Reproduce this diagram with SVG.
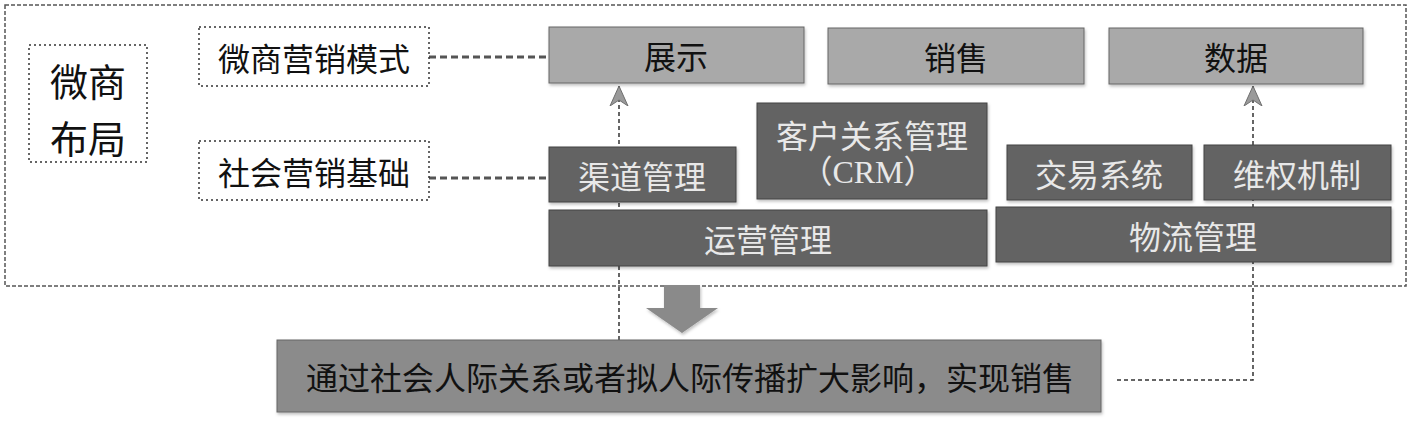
<svg xmlns="http://www.w3.org/2000/svg" width="1413" height="423" viewBox="0 0 1413 423">
<style>
text{font-family:"Noto Sans CJK SC","Noto Sans CJK JP",sans-serif;dominant-baseline:central;text-anchor:middle}
.frame{fill:none;stroke:#555;stroke-width:1.5;stroke-dasharray:4 2}
.dot{fill:#fff;stroke:#333;stroke-width:1.5;stroke-dasharray:2 3}
.light{fill:#a9a9a9;stroke:#666;stroke-width:1}
.dark{fill:#636363;stroke:#444;stroke-width:1}
.bottom{fill:#8b8b8b;stroke:#666;stroke-width:1}
.tb{fill:#111;font-size:32px}
.tw{fill:#e8e8e8;font-size:32px}
.big{fill:#111;font-size:38px}
.link{fill:none;stroke:#555;stroke-width:3;stroke-dasharray:7 4}
.thin{fill:none;stroke:#333;stroke-width:1.5;stroke-dasharray:4 3}
</style>
<defs>
<filter id="sh" x="-5%" y="-10%" width="110%" height="130%">
<feDropShadow dx="1" dy="2" stdDeviation="1.5" flood-color="#000" flood-opacity="0.25"/>
</filter>
<marker id="ah" viewBox="0 0 20 20" refX="20" refY="10" markerWidth="20" markerHeight="20" markerUnits="userSpaceOnUse" orient="auto">
<path d="M0,1 L20,10 L0,19 L6,10 Z" fill="#9a9a9a" stroke="#6e6e6e" stroke-width="1"/>
</marker>
</defs>
<rect id="outer-frame" class="frame" x="5" y="5" width="1401" height="281"/>
<g id="connectors">
<line class="link" x1="429" y1="57" x2="549" y2="57"/>
<line class="link" x1="429" y1="178" x2="549" y2="178"/>
<line class="thin" x1="619" y1="340" x2="619" y2="86" marker-end="url(#ah)"/>
<polyline class="thin" points="1117,380 1253,380 1253,86" marker-end="url(#ah)"/>
<polygon points="664,285 700,285 700,308 718,308 682,333 646,308 664,308" fill="#8a8a8a" filter="url(#sh)"/>
</g>
<g id="node-layout">
<rect class="dot" x="29" y="45" width="118" height="117"/>
<text class="big" x="88" y="79">微商</text>
<text class="big" x="88" y="136">布局</text>
</g>
<g id="node-mode">
<rect class="dot" x="199" y="27" width="230" height="59"/>
<text class="tb" x="314" y="57">微商营销模式</text>
</g>
<g id="node-base">
<rect class="dot" x="199" y="141" width="230" height="59"/>
<text class="tb" x="314" y="171">社会营销基础</text>
</g>
<g id="node-show">
<rect class="light" x="549" y="27" width="255" height="56" filter="url(#sh)"/>
<text class="tb" x="676" y="55">展示</text>
</g>
<g id="node-sale">
<rect class="light" x="828" y="28" width="256" height="56" filter="url(#sh)"/>
<text class="tb" x="956" y="56">销售</text>
</g>
<g id="node-data">
<rect class="light" x="1109" y="28" width="254" height="56" filter="url(#sh)"/>
<text class="tb" x="1236" y="56">数据</text>
</g>
<g id="node-crm">
<rect class="dark" x="757" y="103" width="230" height="96" filter="url(#sh)"/>
<text class="tw" x="872" y="134">客户关系管理</text>
<text class="tw" x="868" y="172" style="font-family:'Liberation Serif','Noto Sans CJK SC',serif">（CRM）</text>
</g>
<g id="node-channel">
<rect class="dark" x="549" y="147" width="187" height="55" filter="url(#sh)"/>
<text class="tw" x="642" y="175">渠道管理</text>
</g>
<g id="node-ops">
<rect class="dark" x="549" y="210" width="438" height="56" filter="url(#sh)"/>
<text class="tw" x="768" y="238">运营管理</text>
</g>
<g id="node-trade">
<rect class="dark" x="1007" y="145" width="185" height="55" filter="url(#sh)"/>
<text class="tw" x="1099" y="173">交易系统</text>
</g>
<g id="node-rights">
<rect class="dark" x="1204" y="145" width="187" height="55" filter="url(#sh)"/>
<text class="tw" x="1297" y="173">维权机制</text>
</g>
<g id="node-logistics">
<rect class="dark" x="996" y="207" width="395" height="55" filter="url(#sh)"/>
<text class="tw" x="1193" y="235">物流管理</text>
</g>
<g id="node-result">
<rect class="bottom" x="277" y="340" width="824" height="72" filter="url(#sh)"/>
<text class="tb" x="690" y="376">通过社会人际关系或者拟人际传播扩大影响，实现销售</text>
</g>
</svg>
